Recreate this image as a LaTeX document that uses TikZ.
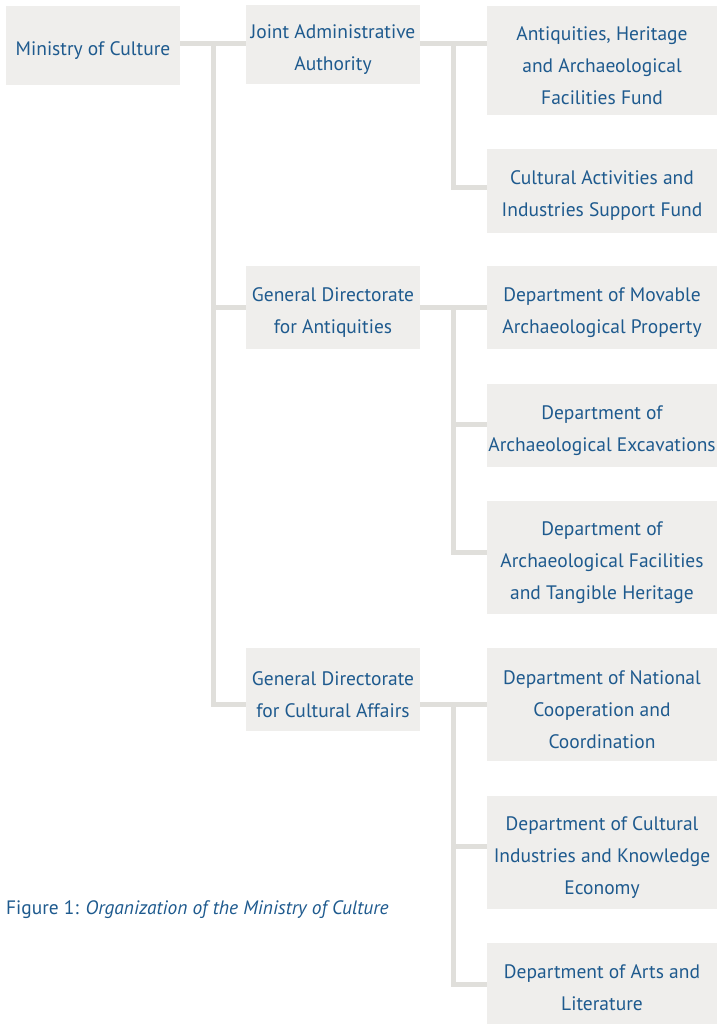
\documentclass[tikz,border=0pt]{standalone}
\usepackage{fontspec}
\setmainfont{PT Sans}
\definecolor{txt}{HTML}{1E5A8E}
\definecolor{boxfill}{HTML}{EFEEEC}
\definecolor{lin}{HTML}{E0DFDB}
\begin{document}
\begin{tikzpicture}[x=1pt,y=-1pt,
  box/.style={fill=boxfill, inner sep=0pt},
  mid/.style={box, minimum width=174pt},
  rbox/.style={box, minimum width=230pt},
  lbl/.style={inner sep=0pt, align=center, text=txt,
    font=\fontsize{19.5}{32}\selectfont, yshift=-5pt},
  conn/.style={draw=lin, line width=5pt, line join=miter},
]
\useasboundingbox (0,0) rectangle (717,1024);
% left and middle column
\node[mid, minimum height=79pt] (min) at (93,45.5) {};
\node[lbl] (min-t) at (min.center) {Ministry of Culture};
\node[mid, minimum height=79pt] (joint) at (333,44.5) {};
\node[lbl] (joint-t) at (joint.center) {Joint Administrative\\Authority};
\node[mid, minimum height=83pt] (gda) at (333,307.5) {};
\node[lbl] (gda-t) at (gda.center) {General Directorate\\for Antiquities};
\node[mid, minimum height=83pt] (gdc) at (333,689.5) {};
\node[lbl] (gdc-t) at (gdc.center) {General Directorate\\for Cultural Affairs};
% right column
\node[rbox, minimum height=109pt] (r1) at (602,60.5) {};
\node[lbl] (r1-t) at (r1.center) {Antiquities, Heritage\\and Archaeological\\Facilities Fund};
\node[rbox, minimum height=84pt] (r2) at (602,191) {};
\node[lbl] (r2-t) at (r2.center) {Cultural Activities and\\Industries Support Fund};
\node[rbox, minimum height=83pt] (r3) at (602,307.5) {};
\node[lbl] (r3-t) at (r3.center) {Department of Movable\\Archaeological Property};
\node[rbox, minimum height=83pt] (r4) at (602,425.5) {};
\node[lbl] (r4-t) at (r4.center) {Department of\\Archaeological Excavations};
\node[rbox, minimum height=113pt] (r5) at (602,557.5) {};
\node[lbl] (r5-t) at (r5.center) {Department of\\Archaeological Facilities\\and Tangible Heritage};
\node[rbox, minimum height=113pt] (r6) at (602,704.5) {};
\node[lbl] (r6-t) at (r6.center) {Department of National\\Cooperation and\\Coordination};
\node[rbox, minimum height=113pt] (r7) at (602,852.5) {};
\node[lbl] (r7-t) at (r7.center) {Department of Cultural\\Industries and Knowledge\\Economy};
\node[rbox, minimum height=81pt] (r8) at (602,983.5) {};
\node[lbl] (r8-t) at ([yshift=1pt]r8.center) {Department of Arts and\\Literature};
% connector coordinates
\coordinate (a0) at (213,44);
\coordinate (a1) at (213,307);
\coordinate (a2) at (213,704);
\coordinate (b0) at (453,44);
\coordinate (b1) at (453,188);
\coordinate (c0) at (453,307);
\coordinate (c1) at (453,424);
\coordinate (c2) at (453,552);
\coordinate (d0) at (453,704);
\coordinate (d1) at (453,846);
\coordinate (d2) at (453,984);
% trunk
\draw[conn] (min.east |- a0) -- (joint.west |- a0);
\draw[conn] (a0) -- (a2) -- (gdc.west |- a2);
\draw[conn] (a1) -- (gda.west |- a1);
% joint branch
\draw[conn] (joint.east |- b0) -- (r1.west |- b0);
\draw[conn] (b0) -- (b1) -- (r2.west |- b1);
% antiquities branch
\draw[conn] (gda.east |- c0) -- (r3.west |- c0);
\draw[conn] (c0) -- (c2) -- (r5.west |- c2);
\draw[conn] (c1) -- (r4.west |- c1);
% cultural affairs branch
\draw[conn] (gdc.east |- d0) -- (r6.west |- d0);
\draw[conn] (d0) -- (d2) -- (r8.west |- d2);
\draw[conn] (d1) -- (r7.west |- d1);
% caption
\node[anchor=base west, inner sep=0pt, text=txt, font=\fontsize{19.4}{22}\selectfont] (cap) at (6,914)
  {Figure 1: \textit{Organization of the Ministry of Culture}};
\end{tikzpicture}
\end{document}
